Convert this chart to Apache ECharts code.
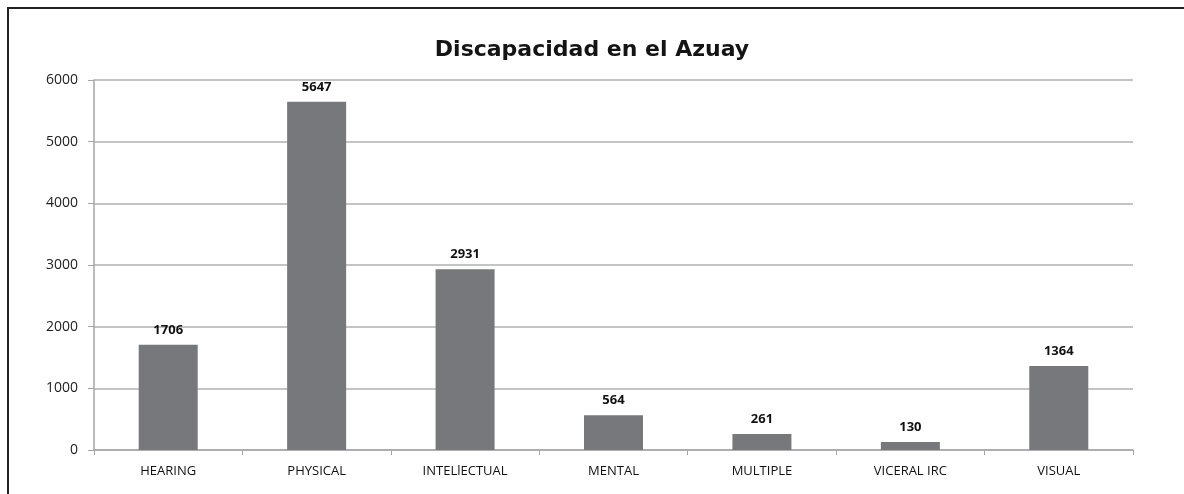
<!DOCTYPE html>
<html>
<head>
<meta charset="utf-8">
<script src="https://cdn.jsdelivr.net/npm/echarts@6/dist/echarts.min.js"></script>
<style>
html,body{margin:0;padding:0;background:#fff;}
#chart{width:1184px;height:494px;}
</style>
</head>
<body>
<div id="chart"></div>
<script>
const categories = ['HEARING', 'PHYSICAL', 'INTELlECTUAL', 'MENTAL', 'MULTIPLE', 'VICERAL IRC', 'VISUAL'];
const values = [1706, 5647, 2931, 564, 261, 130, 1364];
const yTicks = { min: 0, max: 6000, interval: 1000 };
const titleText = 'Discapacidad en el Azuay';

const chart = echarts.init(document.getElementById('chart'), null, { renderer: 'canvas' });
chart.setOption({
  animation: false,
  backgroundColor: '#ffffff',
  title: {
    text: titleText,
    left: 'center',
    top: 34,
    textStyle: { fontFamily: 'DejaVu Sans', fontSize: 22, fontWeight: 'bold', color: '#141414' }
  },
  graphic: [{
    type: 'rect',
    shape: { x: 8, y: 8, width: 1300, height: 600 },
    style: { fill: 'none', stroke: '#222', lineWidth: 2 },
    silent: true
  }],
  grid: { left: 94, right: 51, top: 80, bottom: 44, containLabel: false },
  xAxis: {
    type: 'category',
    data: categories,
    axisLine: { lineStyle: { color: '#a6a6a6', width: 1.5 } },
    axisTick: { show: true, length: 5, lineStyle: { color: '#a6a6a6' } },
    axisLabel: { fontFamily: 'Open Sans', fontSize: 13, color: '#111', margin: 15, interval: 0 }
  },
  yAxis: {
    type: 'value',
    min: yTicks.min, max: yTicks.max, interval: yTicks.interval,
    axisLine: { show: true, lineStyle: { color: '#a6a6a6', width: 1.5 } },
    axisTick: { show: true, length: 6, lineStyle: { color: '#a6a6a6' } },
    splitLine: { lineStyle: { color: '#b0b0b0', width: 1.5 } },
    axisLabel: { fontFamily: 'Open Sans', fontSize: 14, color: '#222', margin: 16, formatter: v => String(v) }
  },
  series: [{
    type: 'bar',
    data: values,
    barWidth: 59,
    itemStyle: { color: '#77787b' },
    label: {
      show: true, position: 'top', distance: 8,
      fontFamily: 'Open Sans', fontSize: 13, fontWeight: 'bold', color: '#111'
    }
  }]
});
</script>
</body>
</html>
